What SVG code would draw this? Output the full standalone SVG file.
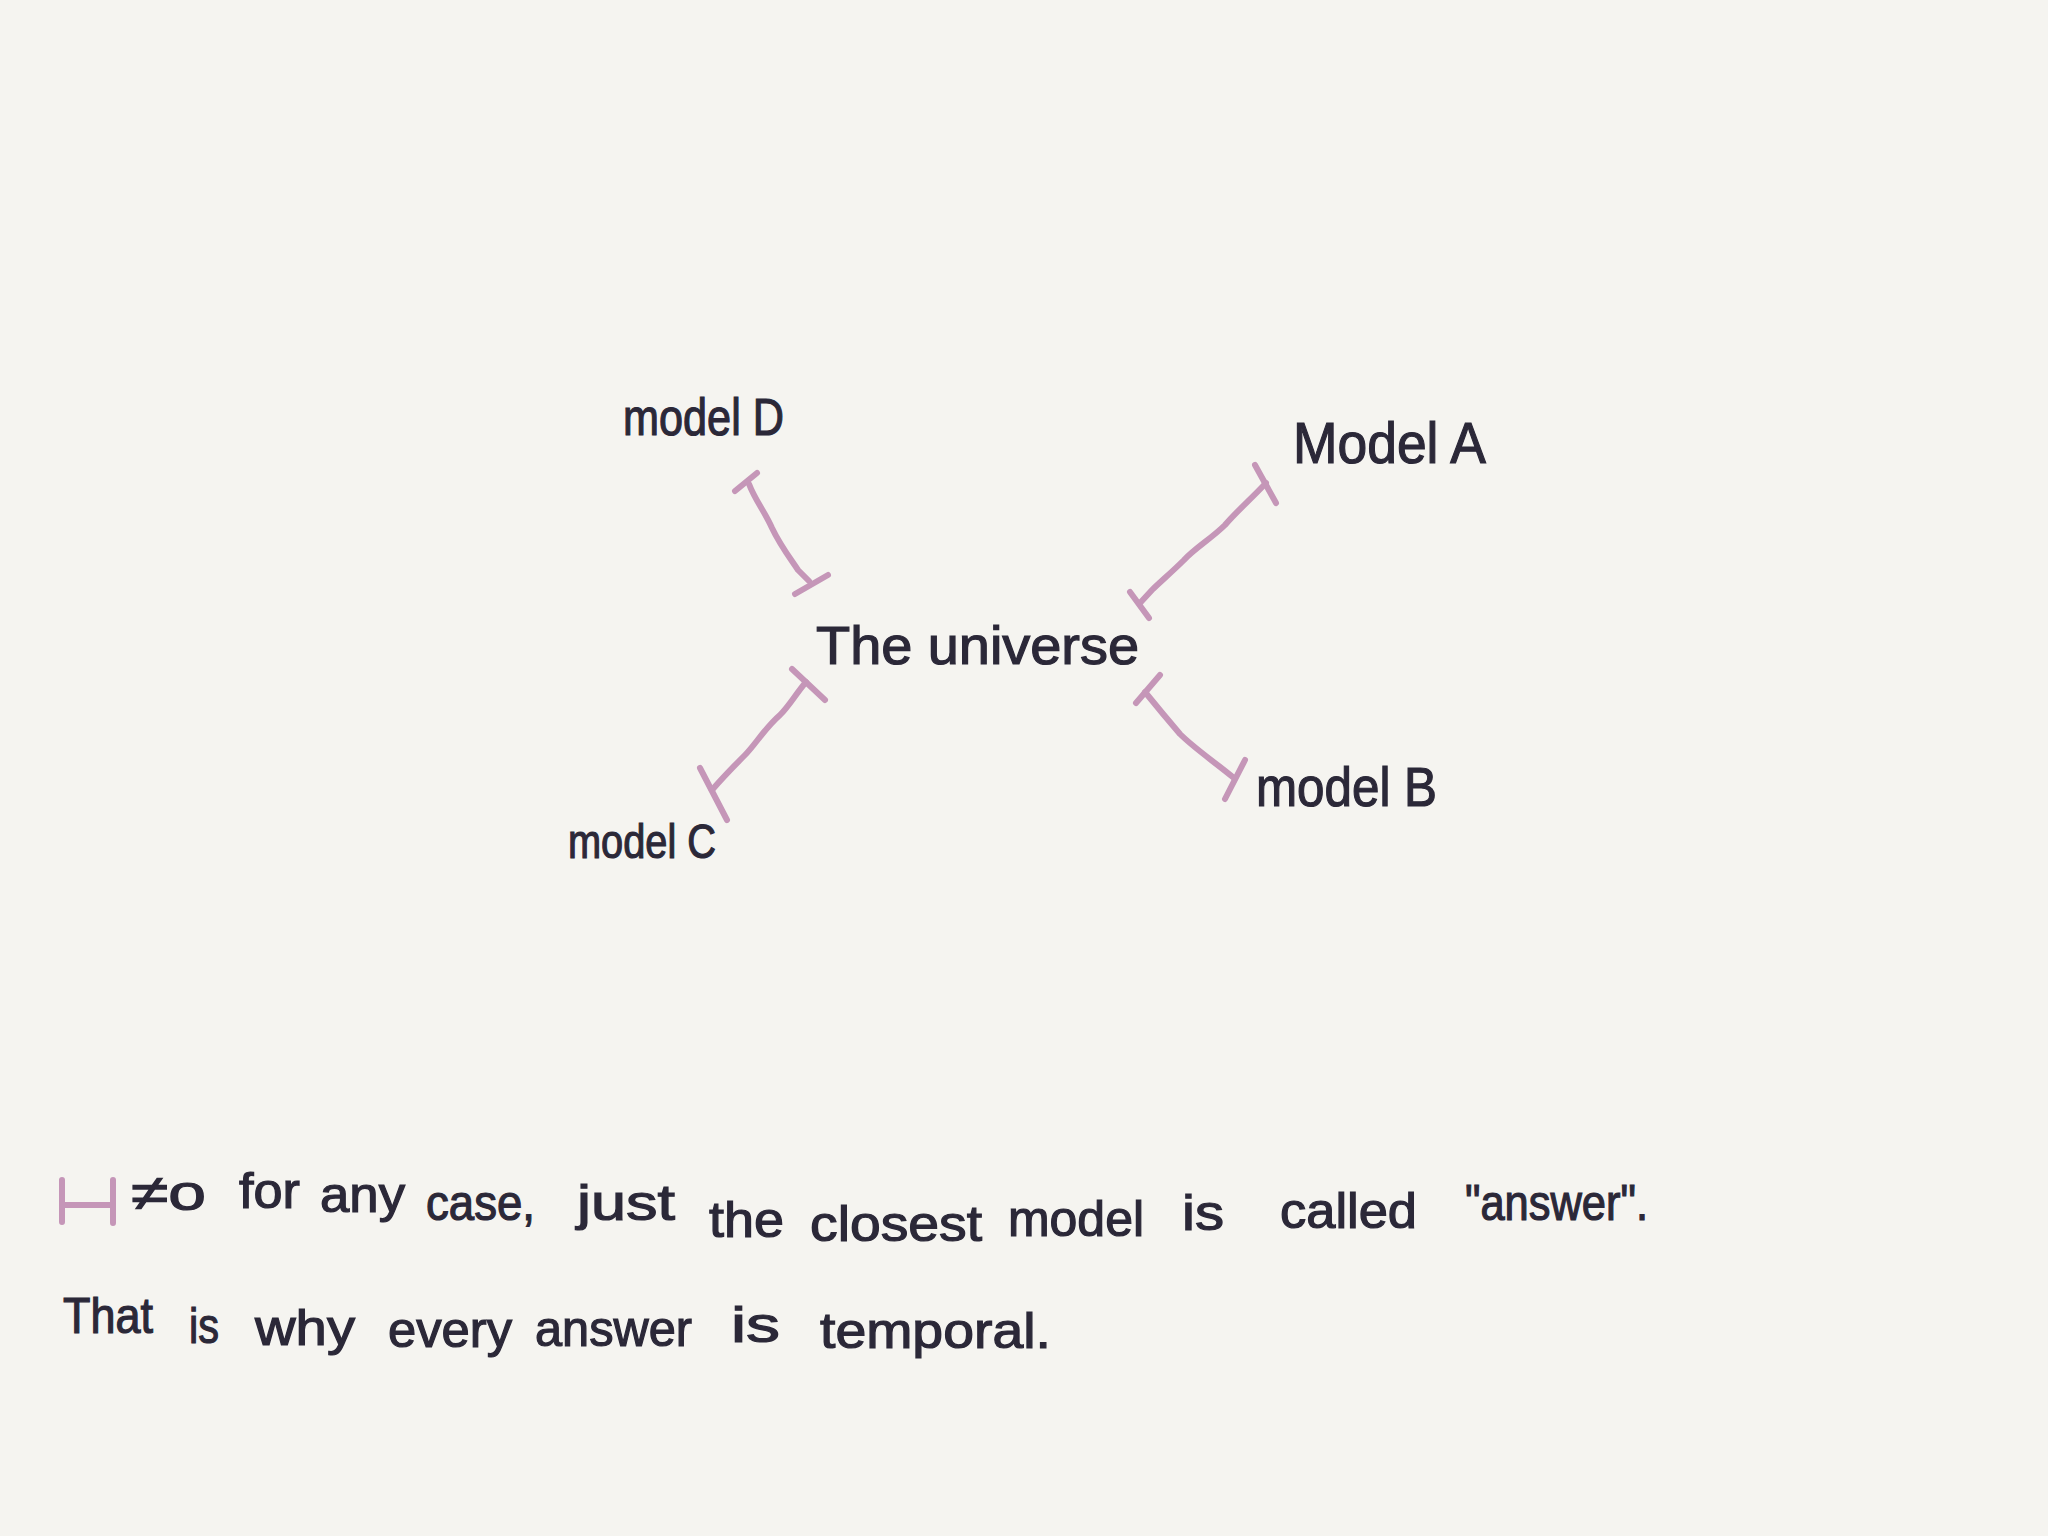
<svg xmlns="http://www.w3.org/2000/svg" width="2048" height="1536" viewBox="0 0 2048 1536">
<style>
.bg{fill:#f5f4f0}
.t{font-family:"Liberation Sans","DejaVu Sans",sans-serif;fill:#2b2838;stroke:#2b2838;stroke-width:1.2}
.c{fill:none;stroke:#c596b8;stroke-width:6;stroke-linecap:round;stroke-linejoin:round}
</style>
<rect class="bg" width="2048" height="1536"/>
<g id="connectors">
  <g id="conn-D">
    <path class="c" d="M735,491 L757,473"/>
    <path class="c" d="M749,484 C755,500 765,512 772,528 C780,545 790,558 798,570 L809,581"/>
    <path class="c" d="M795,594 L828,575"/>
  </g>
  <g id="conn-A">
    <path class="c" d="M1255,465 L1276,503"/>
    <path class="c" d="M1266,483 C1250,500 1236,512 1225,525 C1212,538 1195,548 1184,560 C1172,572 1160,582 1152,590 L1140,603"/>
    <path class="c" d="M1130,592 L1149,618"/>
  </g>
  <g id="conn-B">
    <path class="c" d="M1136,703 L1160,675"/>
    <path class="c" d="M1145,692 C1158,708 1168,720 1180,734 C1194,748 1212,760 1234,778"/>
    <path class="c" d="M1225,799 L1245,760"/>
  </g>
  <g id="conn-C">
    <path class="c" d="M792,669 L825,700"/>
    <path class="c" d="M806,682 C795,695 790,705 780,715 C765,728 755,745 745,755 C735,765 725,775 712,790"/>
    <path class="c" d="M700,768 L727,820"/>
  </g>
</g>
<g id="node-universe"><text class="t" x="816" y="664" font-size="54" textLength="323" lengthAdjust="spacingAndGlyphs">The universe</text></g>
<g id="node-modelD"><text class="t" x="623" y="435" font-size="52" textLength="161" lengthAdjust="spacingAndGlyphs">model D</text></g>
<g id="node-modelA"><text class="t" x="1293" y="463" font-size="58" textLength="193" lengthAdjust="spacingAndGlyphs">Model A</text></g>
<g id="node-modelB"><text class="t" x="1256" y="806" font-size="56" textLength="181" lengthAdjust="spacingAndGlyphs">model B</text></g>
<g id="node-modelC"><text class="t" x="568" y="858" font-size="48" textLength="148" lengthAdjust="spacingAndGlyphs">model C</text></g>
<g id="caption">
  <path class="c" d="M62,1180 L62,1222 M113,1180 L113,1223 M62,1205 L113,1205"/>
  <g class="t" font-size="50">
    <text x="131" y="1210" textLength="75" lengthAdjust="spacingAndGlyphs">≠o</text>
    <text x="239" y="1208" textLength="61" lengthAdjust="spacingAndGlyphs">for</text>
    <text x="320" y="1212" textLength="85" lengthAdjust="spacingAndGlyphs">any</text>
    <text x="426" y="1220" textLength="109" lengthAdjust="spacingAndGlyphs">case,</text>
    <text x="577" y="1220" textLength="98" lengthAdjust="spacingAndGlyphs">just</text>
    <text x="709" y="1237" textLength="75" lengthAdjust="spacingAndGlyphs">the</text>
    <text x="810" y="1241" textLength="172" lengthAdjust="spacingAndGlyphs">closest</text>
    <text x="1008" y="1236" textLength="136" lengthAdjust="spacingAndGlyphs">model</text>
    <text x="1182" y="1230" textLength="42" lengthAdjust="spacingAndGlyphs">is</text>
    <text x="1280" y="1228" textLength="137" lengthAdjust="spacingAndGlyphs">called</text>
    <text x="1465" y="1220" textLength="183" lengthAdjust="spacingAndGlyphs">"answer".</text>
    <text x="63" y="1333" textLength="90" lengthAdjust="spacingAndGlyphs">That</text>
    <text x="189" y="1343" textLength="30" lengthAdjust="spacingAndGlyphs">is</text>
    <text x="255" y="1345" textLength="100" lengthAdjust="spacingAndGlyphs">why</text>
    <text x="388" y="1347" textLength="124" lengthAdjust="spacingAndGlyphs">every</text>
    <text x="535" y="1346" textLength="157" lengthAdjust="spacingAndGlyphs">answer</text>
    <text x="731" y="1342" textLength="49" lengthAdjust="spacingAndGlyphs">is</text>
    <text x="820" y="1348" textLength="231" lengthAdjust="spacingAndGlyphs">temporal.</text>
  </g>
</g>
</svg>
